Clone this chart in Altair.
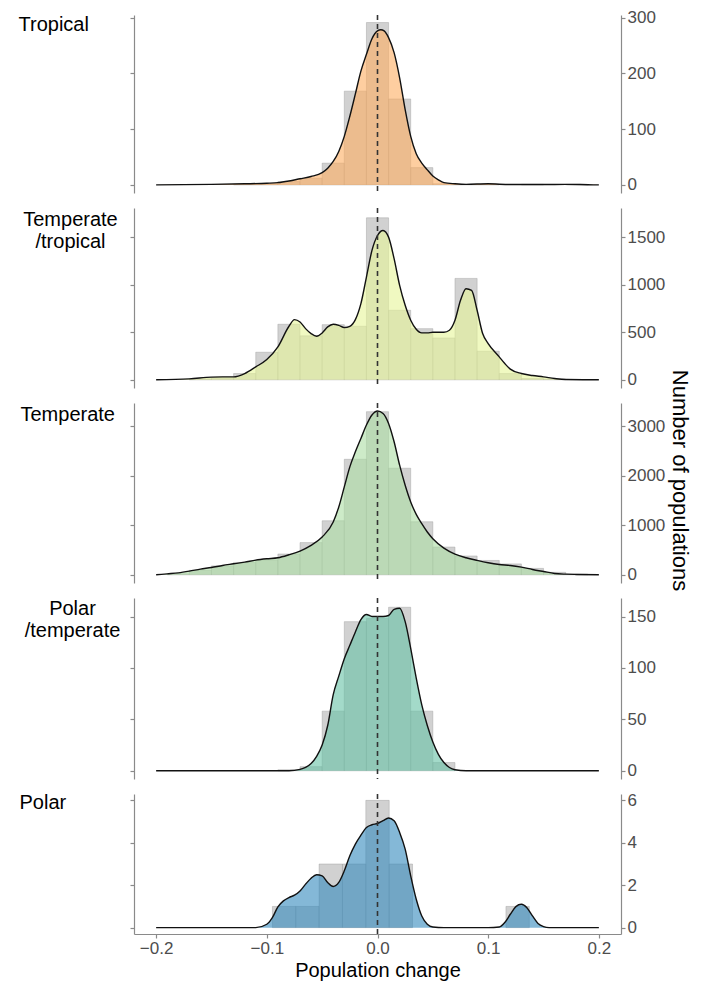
import altair as alt
import pandas as pd

FONT = "Liberation Sans"

# ---------------- data ----------------
# Panel 1: Tropical
trop_centers = [-0.12, -0.10, -0.08, -0.06, -0.04, -0.02, 0.00, 0.02, 0.04, 0.06, 0.08, 0.10, 0.14, 0.18]
trop_counts = [1, 2, 6, 12, 39, 168, 291, 154, 31, 2, 1, 1, 1, 1]
trop_dx = [-0.2, -0.15, -0.12, -0.1, -0.09, -0.08, -0.07, -0.06, -0.05, -0.045, -0.04, -0.035,
           -0.03, -0.025, -0.02, -0.015, -0.01, -0.005, 0.0, 0.003, 0.006, 0.01, 0.015, 0.02,
           0.025, 0.03, 0.035, 0.04, 0.045, 0.05, 0.055, 0.06, 0.07, 0.08, 0.1, 0.12, 0.15,
           0.17, 0.19, 0.2]
trop_dy = [0, 1, 2, 3, 4, 7, 11, 15, 22, 30, 42, 60, 87, 123, 163, 204, 234, 262, 276, 278,
           276, 264, 237, 192, 135, 87, 56, 39, 27, 16, 9, 4, 2, 1, 2, 0.6, 0.6, 1, 0.3, 0]

# Panel 2: Temperate/tropical
tt_centers = [-0.16, -0.14, -0.12, -0.10, -0.08, -0.06, -0.04, -0.02, 0.00, 0.02, 0.04, 0.06,
              0.08, 0.10, 0.12, 0.14, 0.16]
tt_counts = [10, 20, 66, 290, 584, 462, 580, 563, 1703, 731, 538, 440, 1066, 301, 66, 14, 7]
tt_dx = [-0.2, -0.17, -0.15, -0.14, -0.13, -0.12, -0.11, -0.1, -0.09, -0.08, -0.075, -0.07,
         -0.065, -0.06, -0.055, -0.05, -0.045, -0.04, -0.035, -0.03, -0.025, -0.02, -0.015,
         -0.01, -0.005, 0.0, 0.005, 0.01, 0.015, 0.02, 0.025, 0.03, 0.035, 0.04, 0.045, 0.05,
         0.055, 0.06, 0.065, 0.07, 0.075, 0.08, 0.085, 0.09, 0.095, 0.1, 0.11, 0.115, 0.12,
         0.13, 0.14, 0.15, 0.16, 0.17, 0.2]
tt_dy = [0, 10, 28, 31, 31, 66, 136, 213, 346, 563, 633, 608, 538, 486, 458, 493, 556, 584,
         573, 549, 563, 633, 801, 1080, 1360, 1517, 1570, 1500, 1273, 993, 783, 626, 531, 493,
         493, 500, 500, 500, 521, 626, 836, 958, 941, 731, 486, 381, 241, 171, 112, 66, 45,
         31, 14, 3, 0]

# Panel 3: Temperate
te_centers = [-0.18, -0.16, -0.14, -0.12, -0.10, -0.08, -0.06, -0.04, -0.02, 0.00, 0.02, 0.04,
              0.06, 0.08, 0.10, 0.12, 0.14, 0.16, 0.18]
te_counts = [20, 90, 180, 250, 300, 420, 650, 1090, 2330, 3290, 2150, 1070, 560, 380, 290, 220,
             130, 50, 15]
te_dx = [-0.2, -0.19, -0.18, -0.17, -0.16, -0.15, -0.14, -0.13, -0.12, -0.11, -0.1, -0.09,
         -0.08, -0.07, -0.06, -0.05, -0.04, -0.035, -0.03, -0.025, -0.02, -0.015, -0.01,
         -0.005, 0.0, 0.005, 0.01, 0.015, 0.02, 0.025, 0.03, 0.035, 0.04, 0.045, 0.05, 0.06,
         0.07, 0.08, 0.09, 0.1, 0.11, 0.12, 0.13, 0.14, 0.15, 0.16, 0.17, 0.18, 0.2]
te_dy = [0, 20, 40, 74, 115, 148, 189, 222, 256, 297, 324, 344, 404, 479, 593, 762, 1065, 1368,
         1773, 2177, 2480, 2750, 3020, 3222, 3303, 3255, 3053, 2683, 2211, 1806, 1469, 1220,
         1031, 863, 728, 539, 418, 344, 290, 243, 209, 189, 155, 108, 67, 27, 13, 7, 0]

# Panel 4: Polar/temperate
pt_centers = [-0.08, -0.06, -0.04, -0.02, 0.00, 0.02, 0.04, 0.06]
pt_counts = [1, 4, 58, 145, 148, 159, 58, 8]
pt_dx = [-0.2, -0.08, -0.07, -0.065, -0.06, -0.055, -0.05, -0.045, -0.04, -0.035, -0.03,
         -0.025, -0.02, -0.015, -0.01, -0.005, 0.0, 0.005, 0.01, 0.015, 0.02, 0.025, 0.03,
         0.035, 0.04, 0.045, 0.05, 0.055, 0.06, 0.065, 0.07, 0.08, 0.2]
pt_dy = [0, 0, 1.3, 3.2, 7, 14, 25, 44, 74, 92, 109, 122, 135, 147, 152, 150, 150, 150, 151,
         157, 158, 145, 119, 90, 64, 44, 28, 16, 8, 3.2, 1, 0, 0]

# Panel 5: Polar
po_centers = [-0.0844, -0.0633, -0.0422, -0.0211, 0.0, 0.0211, 0.1266]
po_counts = [1, 1, 3, 3, 6, 3, 1]
po_dx = [-0.2, -0.11, -0.1, -0.095, -0.09, -0.085, -0.08, -0.075, -0.07, -0.065, -0.06,
         -0.055, -0.05, -0.045, -0.04, -0.035, -0.03, -0.025, -0.02, -0.015, -0.01, -0.005,
         0.0, 0.005, 0.01, 0.015, 0.02, 0.025, 0.03, 0.035, 0.04, 0.045, 0.05, 0.06, 0.1,
         0.11, 0.115, 0.12, 0.125, 0.13, 0.135, 0.14, 0.145, 0.15, 0.155, 0.2]
po_dy = [0, 0, 0.16, 0.47, 0.98, 1.26, 1.42, 1.53, 1.73, 2.05, 2.33, 2.49, 2.44, 2.13, 1.94,
         2.13, 2.68, 3.39, 3.94, 4.36, 4.72, 4.85, 4.91, 5.04, 5.17, 5.04, 4.49, 3.70, 2.44,
         1.34, 0.55, 0.16, 0.03, 0, 0, 0.03, 0.24, 0.63, 0.99, 1.10, 0.94, 0.55, 0.2, 0.05,
         0, 0]

x_ticks = [-0.2, -0.1, 0.0, 0.1, 0.2]
zero_line = [0.0]

# ---------------- styling ----------------
AXIS_GRAY = "#8A8A8A"
LABEL_GRAY = "#4D4D4D"
PLOT_W = 487
XDOM = [-0.22, 0.22]


def panel(label, title_x, title_align, title_y, centers, counts, bw, dx, dy, color,
          ydom, yticks, height, bottom=False, ytitle=False):
    bars_df = pd.DataFrame({
        "start": [c - bw / 2 for c in centers],
        "end": [c + bw / 2 for c in centers],
        "count": counts,
    })
    dens_df = pd.DataFrame({"x": dx, "y": dy})
    zero_df = pd.DataFrame({"x": zero_line})

    xscale = alt.Scale(domain=XDOM, nice=False, zero=False)
    yscale = alt.Scale(domain=ydom, nice=False, zero=False)

    if bottom:
        xaxis = alt.Axis(values=x_ticks, format=".1f", title="Population change",
                         grid=False, domainColor=AXIS_GRAY, tickColor=AXIS_GRAY,
                         domainWidth=1.2, tickWidth=1.2, tickSize=4,
                         labelFont=FONT, labelFontSize=17, labelColor=LABEL_GRAY,
                         labelPadding=2, titleFont=FONT, titleFontSize=20,
                         titleFontWeight="normal", titleColor="black", titlePadding=4)
    else:
        xaxis = None

    left_axis = alt.Axis(orient="left", values=yticks, labels=False, grid=False,
                         title=label, titleAngle=0, titleAlign=title_align,
                         titleBaseline="alphabetic", titleX=title_x, titleY=title_y,
                         titleFont=FONT, titleFontSize=20, titleFontWeight="normal",
                         titleColor="black", titleLineHeight=22,
                         domainColor=AXIS_GRAY, tickColor=AXIS_GRAY, domainWidth=1.2,
                         tickWidth=1.2, tickSize=4)
    common_right = dict(orient="right", values=yticks, grid=False, format="d",
                        domainColor=AXIS_GRAY, tickColor=AXIS_GRAY, domainWidth=1.2,
                        tickWidth=1.2, tickSize=4, labelFont=FONT, labelFontSize=17,
                        labelColor=LABEL_GRAY, labelPadding=2)
    if ytitle:
        right_axis = alt.Axis(title="Number of populations", titleAngle=90,
                              titleAlign="center", titleBaseline="middle",
                              titleX=58, titleY=77, titleFont=FONT, titleFontSize=22,
                              titleFontWeight="normal", titleColor="black", **common_right)
    else:
        right_axis = alt.Axis(title=None, **common_right)

    bars = alt.Chart(bars_df).mark_rect(
        fill="#BDBDBD", fillOpacity=0.7, stroke="#9A9A9A", strokeWidth=0.6, strokeOpacity=0.7
    ).encode(
        x=alt.X("start:Q", scale=xscale, axis=xaxis),
        x2="end:Q",
        y=alt.Y("count:Q", scale=yscale, axis=left_axis),
        y2=alt.datum(0),
    )
    area = alt.Chart(dens_df).mark_area(
        interpolate="monotone", color=color, fillOpacity=0.6
    ).encode(
        x=alt.X("x:Q", scale=xscale, axis=xaxis),
        y=alt.Y("y:Q", scale=yscale, axis=right_axis),
        y2=alt.datum(0),
    )
    line = alt.Chart(dens_df).mark_line(
        interpolate="monotone", color="#111111", strokeWidth=1.4
    ).encode(
        x=alt.X("x:Q", scale=xscale, axis=xaxis),
        y=alt.Y("y:Q", scale=yscale, axis=None),
    )
    rule = alt.Chart(zero_df).mark_rule(
        color="#333333", strokeDash=[5, 4], strokeWidth=1.6
    ).encode(
        x=alt.X("x:Q", scale=xscale, axis=xaxis),
    )
    return alt.layer(bars, area, line, rule).resolve_axis(y="independent").properties(
        width=PLOT_W, height=height
    )


p1 = panel("Tropical", -116, "left", 15, trop_centers, trop_counts, 0.02, trop_dx, trop_dy,
           "#FDAE61", [-14.5, 304.5], [0, 100, 200, 300], 178)
p2 = panel(["Temperate", "/tropical"], -64, "center", 17, tt_centers, tt_counts, 0.02,
           tt_dx, tt_dy, "#E6F598", [-86, 1806], [0, 500, 1000, 1500], 180)
p3 = panel("Temperate", -114, "left", 17, te_centers, te_counts, 0.02, te_dx, te_dy,
           "#ABDDA4", [-165, 3465], [0, 1000, 2000, 3000], 180, ytitle=True)
p4 = panel(["Polar", "/temperate"], -62, "center", 16, pt_centers, pt_counts, 0.02,
           pt_dx, pt_dy, "#66C2A5", [-8, 168], [0, 50, 100, 150], 181)
p5 = panel("Polar", -115, "left", 14, po_centers, po_counts, 0.0211, po_dx, po_dy,
           "#3288BD", [-0.3, 6.3], [0, 2, 4, 6], 140, bottom=True)

chart = alt.vconcat(p1, p2, p3, p4, p5, spacing=15, bounds="flush").properties(
    padding={"left": 10, "top": 0, "right": 5, "bottom": 5}
).configure(font=FONT).configure_view(stroke=None)

chart.save("out.html", embed_options={"renderer": "svg", "actions": False})
